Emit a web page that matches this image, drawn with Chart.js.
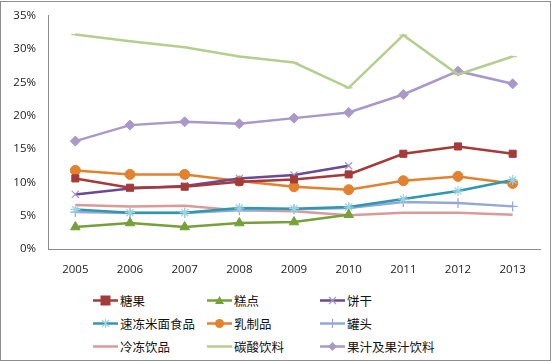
<!DOCTYPE html>
<html lang="zh">
<head>
  <meta charset="UTF-8">
  <title>食品行业占比</title>
  <script src="https://cdn.jsdelivr.net/npm/chart.js"></script>
  <style>
    body {
      margin: 0;
      background: #fff;
      font-family: "Noto Sans CJK SC", sans-serif;
    }
    .frame {
      position: absolute;
      left: 0;
      top: 1;
      top: 1px;
      width: 551px;
      height: 360px;
      box-sizing: border-box;
      border: 1px solid #8f8f8f;
      overflow: hidden;
    }
    .chart-box {
      position: absolute;
      left: 0;
      top: -1px;
      width: 551px;
      height: 282px;
    }
    #legend {
      position: absolute;
      left: 0;
      top: 0;
    }
    .item {
      position: absolute;
      height: 20px;
      display: flex;
      align-items: center;
      font-size: 12.5px;
      color: #111;
      white-space: nowrap;
    }
    .item svg { margin-right: 1px; }
  </style>
</head>
<body>
  <div class="frame">
    <div class="chart-box"><canvas id="lineChart"></canvas></div>
    <div id="legend"></div>
  </div>

  <script>
    const years = ['2005', '2006', '2007', '2008', '2009', '2010', '2011', '2012', '2013'];

    // 各品类占比 (%)
    const candy      = [10.6, 9.2, 9.35, 10.1, 10.45, 11.2, 14.3, 15.4, 14.3];
    const pastry     = [3.3, 3.9, 3.3, 3.9, 4.05, 5.15, null, null, null];
    const biscuit    = [8.2, 9.1, 9.45, 10.6, 11.1, 12.5, null, null, null];
    const frozenFood = [5.95, 5.45, 5.45, 6.15, 6.05, 6.3, 7.5, 8.7, 10.35];
    const dairy      = [11.8, 11.2, 11.2, 10.2, 9.35, 8.9, 10.25, 10.9, 9.85];
    const canned     = [5.55, 5.4, 5.4, 5.8, 5.95, 6.15, 7.05, 6.9, 6.4];
    const iceDrinks  = [6.6, 6.4, 6.5, 5.8, 5.65, 5.05, 5.45, 5.45, 5.15];
    const soda       = [32.2, 31.2, 30.3, 28.9, 28.0, 24.2, 32.1, 26.2, 28.9];
    const juice      = [16.2, 18.6, 19.1, 18.8, 19.65, 20.5, 23.2, 26.7, 24.8];

    const series = [
      { label: '糖果', data: candy, color: '#A33B3A', marker: 'rect', size: 5, fill: '#A33B3A' },
      { label: '糕点', data: pastry, color: '#76A03A', marker: 'triangle', size: 5.5, fill: '#76A03A' },
      { label: '饼干', data: biscuit, color: '#6A4A91', marker: 'crossRot', size: 5, fill: '#A996C9' },
      { label: '速冻米面食品', data: frozenFood, color: '#2E98AE', marker: 'star', size: 5, fill: '#9AD3E4' },
      { label: '乳制品', data: dairy, color: '#E2822E', marker: 'circle', size: 5, fill: '#E2822E' },
      { label: '罐头', data: canned, color: '#93A8D6', marker: 'cross', size: 5, fill: '#93A8D6' },
      { label: '冷冻饮品', data: iceDrinks, color: '#DB9A98', marker: false, size: 0, fill: '#DB9A98' },
      { label: '碳酸饮料', data: soda, color: '#B5CE8F', marker: 'line', size: 4, fill: '#B5CE8F' },
      { label: '果汁及果汁饮料', data: juice, color: '#A899C8', marker: 'rectRot', size: 5, fill: '#A899C8' }
    ];

    const filled = ['rect', 'triangle', 'circle', 'rectRot'];

    const datasets = series.map(s => ({
      label: s.label,
      data: s.data,
      borderColor: s.color,
      backgroundColor: s.fill,
      borderWidth: 2.5,
      pointStyle: s.marker,
      pointRadius: s.size,
      pointBackgroundColor: s.fill,
      pointBorderColor: filled.includes(s.marker) ? s.color : s.fill,
      pointBorderWidth: filled.includes(s.marker) ? 1 : 1.2,
      tension: 0,
      spanGaps: false
    }));

    new Chart(document.getElementById('lineChart').getContext('2d'), {
      type: 'line',
      data: { labels: years, datasets },
      options: {
        responsive: true,
        maintainAspectRatio: false,
        animation: false,
        layout: { padding: { top: 10, right: 12, left: 0, bottom: 0 } },
        plugins: {
          legend: { display: false },
          tooltip: { enabled: false }
        },
        scales: {
          x: {
            offset: true,
            grid: { display: false, drawTicks: false },
            border: { color: '#8c8c8c', width: 1 },
            ticks: {
              color: '#222',
              padding: 14,
              font: { family: 'Open Sans', size: 11.5 }
            },
            afterFit: s => { s.height = 34; }
          },
          y: {
            min: 0,
            max: 35,
            grid: { display: false, drawTicks: true, tickLength: 4, color: '#8c8c8c' },
            border: { color: '#8c8c8c', width: 1 },
            ticks: {
              stepSize: 5,
              color: '#222',
              padding: 8,
              font: { family: 'Open Sans', size: 11.5 },
              callback: v => v + '%'
            },
            afterFit: s => { s.width = 47; }
          }
        }
      }
    });

    // 图例：三列
    function markerSvg(s) {
      const c = s.color, f = s.fill;
      let m = '';
      if (s.marker === 'rect') m = `<rect x="8" y="5" width="9" height="9" fill="${f}" stroke="${c}"/>`;
      if (s.marker === 'triangle') m = `<polygon points="12.5,5 17,13 8,13" fill="${f}"/>`;
      if (s.marker === 'crossRot') m = `<path d="M9 6 L16 13 M16 6 L9 13" stroke="${f}" stroke-width="1.2"/>`;
      if (s.marker === 'star') m = `<path d="M9 6 L16 13 M16 6 L9 13 M12.5 5 L12.5 14" stroke="${f}" stroke-width="1.2"/>`;
      if (s.marker === 'circle') m = `<circle cx="12.5" cy="9.5" r="4.5" fill="${f}"/>`;
      if (s.marker === 'cross') m = `<path d="M12.5 5 L12.5 14" stroke="${f}" stroke-width="1.2"/>`;
      if (s.marker === 'rectRot') m = `<polygon points="12.5,5 17,9.5 12.5,14 8,9.5" fill="${f}"/>`;
      return `<svg width="26" height="19"><line x1="0" y1="9.5" x2="25" y2="9.5" stroke="${c}" stroke-width="2.5"/>${m}</svg>`;
    }

    const colX = [92, 206, 319];
    const rowY = [288, 311, 334];
    const legend = document.getElementById('legend');
    series.forEach((s, i) => {
      const el = document.createElement('div');
      el.className = 'item';
      el.style.left = colX[i % 3] + 'px';
      el.style.top = rowY[Math.floor(i / 3)] + 'px';
      el.innerHTML = markerSvg(s) + '<span>' + s.label + '</span>';
      legend.appendChild(el);
    });
  </script>
</body>
</html>
